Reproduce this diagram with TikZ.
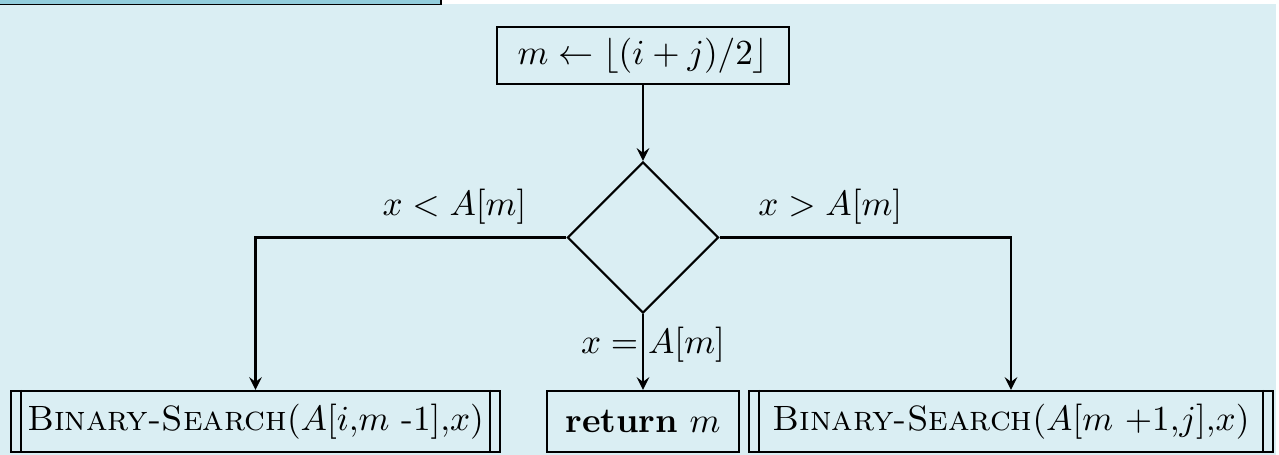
\documentclass[tikz,border=0pt]{standalone}
\usepackage{amsmath}
\usetikzlibrary{shapes.geometric}

\definecolor{bgblue}{HTML}{DAEEF3}
\definecolor{barblue}{HTML}{92CDDC}

\begin{document}
\begin{tikzpicture}[x=0.01cm, y=-0.01cm, >=stealth, line width=0.6pt,
    box/.style={draw, rectangle, inner sep=0pt, minimum height=0.61cm}]
    % 画布与背景
    \useasboundingbox (0,0) rectangle (1279,455);
    \clip (0,0) rectangle (1279,455);
    \fill[bgblue] (0,4) rectangle (1276,455);
    \fill[barblue, draw=black, line width=0.5pt] (-10,-20) rectangle (441,4.5);

    % 计算中点
    \node[box, minimum width=2.92cm, minimum height=0.57cm] (mid) at (643,55.5)
        {$m \leftarrow \lfloor (i+j)/2 \rfloor$};

    % 比较判断
    \node[draw, diamond, inner sep=0pt, minimum width=1.51cm, minimum height=1.51cm]
        (test) at (643,237.5) {};

    % 三个分支
    \node[box, minimum width=4.89cm] (lb) at (255.5,421.5)
        {\textsc{Binary-Search}$(A[i{,}m$ -$1]{,}x)$};
    \node[box, minimum width=1.92cm] (ret) at (643,421.5) {\textbf{return} $m$};
    \node[box, minimum width=5.24cm] (rb) at (1011,421.5)
        {\textsc{Binary-Search}$(A[m\ {+}1{,}j]{,}x)$};

    % 双竖线
    \foreach \n in {lb,rb} {
        \draw ([xshift=0.11cm]\n.north west) -- ([xshift=0.11cm]\n.south west);
        \draw ([xshift=-0.11cm]\n.north east) -- ([xshift=-0.11cm]\n.south east);
    }

    % 连线
    \draw[->] (mid) -- (test);
    \draw[->] (test.west) -| (lb.north) node[pos=0.18, above=0pt] {$x < A[m]$};
    \draw[->] (test.east) -| (rb.north) node[pos=0.19, above=0pt] {$x > A[m]$};
    \draw[->] (test.south) -- (ret.north)
        node[midway, xshift=0.1cm, yshift=0.07cm] {$x = A[m]$};
\end{tikzpicture}
\end{document}
